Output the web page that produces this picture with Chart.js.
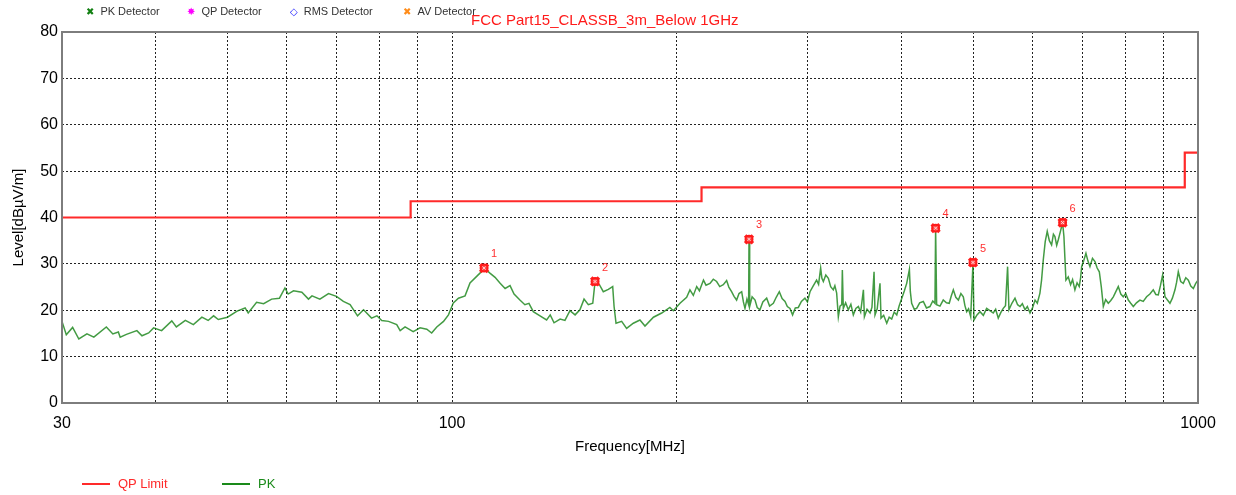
<!DOCTYPE html>
<html>
<head>
<meta charset="utf-8">
<script src="https://cdn.jsdelivr.net/npm/chart.js@4.4.1/dist/chart.umd.min.js"></script>
<style>
html, body { margin: 0; padding: 0; background: #fff; }
#wrap { position: relative; width: 1236px; height: 495px; font-family: "Liberation Sans", Arial, sans-serif; }
#c { position: absolute; left: 0; top: 0; }
.lg { position: absolute; top: 5px; font-size: 11px; color: #333; white-space: nowrap; }
.lg b { font-weight: normal; font-family: "DejaVu Sans", sans-serif; font-size: 10px; margin-right: 6px; }
#title { position: absolute; left: 471px; top: 11px; font-size: 15px; color: #ff1a1a; white-space: nowrap; }
.bl { position: absolute; top: 476px; font-size: 13px; white-space: nowrap; }
.bl i { display: inline-block; width: 28px; height: 2px; vertical-align: middle; margin-right: 8px; position: relative; top: -1px; }
</style>
</head>
<body>
<div id="wrap">
  <canvas id="c" width="1236" height="495"></canvas>
  <div class="lg" style="left:86px"><b style="color:#128012">&#10006;</b>PK Detector</div>
  <div class="lg" style="left:187px"><b style="color:#ff00ff">&#10040;</b>QP Detector</div>
  <div class="lg" style="left:290px"><b style="color:#1a1aff">&#9671;</b>RMS Detector</div>
  <div class="lg" style="left:403px"><b style="color:#ff8c1a">&#10006;</b>AV Detector</div>
  <div id="title">FCC Part15_CLASSB_3m_Below 1GHz</div>
  <div class="bl" style="left:82px;color:#ff2a2a"><i style="background:#ff2a2a"></i>QP Limit</div>
  <div class="bl" style="left:222px;color:#1a8a1a"><i style="background:#1a8a1a"></i>PK</div>
</div>
<script>
// x axis ticks (MHz), only some get a label
const xTicks = [30, 40, 50, 60, 70, 80, 90, 100, 200, 300, 400, 500, 600, 700, 800, 900, 1000]
const xLabels = [30, 100, 1000]
const yTicks = [0, 10, 20, 30, 40, 50, 60, 70, 80]

// QP limit, stepped
const limitFreq = [30, 88, 216, 960, 1000]
const limitLevel = [40, 43.5, 46.5, 54, 54]

// PK trace
const pkFreq = [
  30.0, 30.4, 31.0, 31.6, 32.4, 33.1, 34.4, 35.1, 35.7, 35.9, 36.6, 37.8, 38.4, 39.2, 39.8,
  40.8, 42.1, 42.7, 43.9, 45.0, 46.2, 47.1, 47.9, 48.6, 50.0, 51.5, 52.8, 53.3, 54.7, 55.9,
  57.3, 58.7, 59.7, 60.3, 61.3, 62.9, 64.2, 64.9, 66.5, 68.3, 70.0, 71.5, 73.0, 74.7, 76.1,
  78.0, 79.3, 80.5, 82.2, 84.3, 85.2, 86.5, 88.7, 90.6, 92.5, 93.9, 95.4, 97.4, 98.9, 100.4,
  102.0, 104.1, 105.7, 107.9, 109.0, 110.4, 112.4, 114.2, 116.0, 117.8, 119.6, 121.1, 123.3, 125.2, 126.8,
  128.5, 131.2, 133.9, 135.4, 137.0, 139.6, 141.7, 143.9, 146.2, 148.4, 150.3, 152.3, 154.4, 155.5, 157.6,
  159.5, 162.0, 164.2, 164.9, 165.9, 168.8, 171.4, 175.0, 178.6, 181.4, 186.2, 191.0, 195.9, 198.0, 202.1,
  206.3, 208.4, 210.6, 212.8, 214.6, 217.3, 219.0, 221.7, 224.0, 226.3, 228.5, 231.0, 233.4, 235.0, 237.0,
  238.8, 240.7, 242.5, 244.5, 245.8, 247.0, 248.5, 249.8, 250.1, 250.6, 252.5, 254.8, 256.5, 258.7, 261.0,
  264.1, 266.5, 269.6, 272.0, 274.6, 277.0, 279.5, 281.5, 283.8, 286.1, 288.5, 291.2, 294.0, 297.2, 299.5,
  301.9, 304.8, 308.1, 310.0, 312.0, 313.2, 314.6, 317.0, 319.5, 321.8, 324.4, 326.0, 327.8, 329.5, 331.2,
  333.0, 333.6, 334.6, 337.0, 339.8, 342.5, 345.1, 347.8, 350.5, 353.0, 356.0, 357.1, 360.0, 363.4, 365.5,
  367.9, 369.0, 371.5, 374.7, 375.9, 379.0, 382.6, 385.5, 388.5, 391.5, 394.6, 397.5, 400.8, 404.0, 406.9,
  410.3, 411.5, 413.2, 416.5, 419.6, 423.5, 428.3, 432.5, 437.2, 441.0, 444.0, 444.9, 446.3, 450.9, 455.5,
  460.0, 464.0, 466.8, 469.9, 473.5, 477.3, 481.0, 484.6, 487.0, 489.7, 492.5, 495.8, 499.3, 500.8, 505.5,
  510.2, 515.5, 520.8, 526.0, 531.5, 535.5, 539.8, 544.0, 548.2, 552.0, 555.6, 557.9, 563.0, 568.4, 573.0,
  577.3, 581.5, 586.3, 590.5, 595.4, 600.0, 604.7, 609.0, 613.9, 617.0, 620.3, 624.0, 627.9, 632.0, 636.4,
  640.0, 643.0, 646.5, 649.7, 654.0, 658.4, 661.1, 663.0, 665.2, 670.0, 674.8, 679.0, 683.9, 688.5, 693.1,
  696.0, 698.3, 703.0, 707.6, 712.0, 716.4, 722.0, 727.6, 732.5, 737.4, 742.0, 746.6, 752.0, 758.1, 764.0,
  770.0, 776.0, 781.9, 788.0, 794.0, 800.0, 806.4, 812.5, 819.0, 827.0, 835.8, 844.5, 853.3, 862.0, 871.0,
  878.0, 884.6, 890.5, 896.5, 903.1, 910.0, 917.1, 924.0, 931.4, 936.0, 941.0, 948.0, 955.6, 963.0, 970.6,
  978.0, 985.7, 993.0, 1000
]
const pkLevel = [
  17.6, 14.7, 16.3, 13.8, 14.9, 14.2, 16.4, 14.9, 15.3, 14.2, 14.8, 15.6, 14.5, 15.1, 16.2,
  15.6, 17.7, 16.4, 17.8, 16.9, 18.5, 17.8, 18.8, 18.0, 18.5, 19.8, 20.5, 19.4, 21.7, 21.4,
  22.4, 22.6, 24.8, 23.5, 24.2, 23.9, 22.4, 23.1, 22.4, 23.6, 23.0, 21.9, 21.2, 18.8, 20.1,
  18.3, 18.8, 17.8, 17.6, 16.9, 15.6, 16.4, 15.4, 16.2, 15.9, 15.1, 16.4, 17.6, 19.0, 21.6,
  22.6, 23.1, 25.9, 27.3, 28.0, 29.1, 28.0, 27.1, 25.8, 24.7, 25.3, 23.5, 22.2, 21.2, 21.5,
  19.7, 18.8, 17.9, 19.0, 17.3, 18.1, 17.8, 19.9, 19.0, 20.1, 22.4, 21.2, 21.5, 26.2, 25.5,
  24.0, 24.5, 25.1, 20.8, 17.2, 17.6, 16.1, 17.2, 17.9, 16.6, 18.5, 19.4, 20.6, 19.9, 21.5,
  22.8, 24.4, 23.2, 25.1, 24.2, 26.5, 25.4, 25.8, 26.7, 26.2, 25.1, 25.5, 26.4, 25.0, 24.0,
  23.0, 22.2, 23.6, 24.0, 21.8, 20.4, 22.4, 21.2, 35.3, 20.8, 22.9, 22.2, 20.6, 20.1, 21.8,
  22.6, 20.9, 21.5, 22.8, 24.0, 22.5, 21.9, 20.8, 20.4, 19.0, 20.5, 20.6, 21.9, 22.6, 21.8,
  24.0, 25.2, 26.5, 25.6, 29.1, 26.9, 26.2, 27.6, 26.9, 25.1, 24.4, 25.3, 23.7, 18.6, 20.9,
  21.2, 28.7, 20.4, 21.6, 20.1, 21.3, 19.0, 20.4, 20.8, 19.6, 24.4, 18.6, 20.2, 19.4, 20.6,
  28.3, 19.0, 20.3, 25.8, 18.3, 18.9, 17.2, 18.5, 18.1, 19.6, 19.0, 20.9, 22.6, 24.2, 25.8,
  28.8, 24.0, 21.5, 20.2, 20.4, 21.6, 21.9, 20.5, 20.8, 22.0, 21.5, 37.7, 21.2, 20.9, 22.2,
  21.6, 21.5, 23.0, 24.4, 22.8, 22.2, 23.6, 22.9, 21.0, 19.7, 20.3, 18.6, 30.3, 17.9, 19.0,
  19.7, 18.9, 20.4, 19.9, 19.4, 20.2, 18.3, 19.5, 20.4, 21.0, 29.4, 20.1, 21.5, 22.6, 21.2,
  20.8, 21.4, 20.1, 20.8, 19.4, 20.5, 22.2, 21.5, 23.7, 26.5, 30.9, 34.8, 37.0, 35.0, 34.1,
  36.4, 35.9, 34.0, 35.2, 37.0, 38.9, 35.9, 31.5, 26.5, 27.2, 25.5, 26.6, 24.4, 25.9, 25.1,
  27.0, 29.4, 30.8, 32.3, 30.6, 29.4, 31.2, 30.5, 29.1, 28.3, 25.0, 20.8, 22.3, 21.5, 22.1,
  22.9, 24.0, 25.1, 23.5, 22.9, 23.6, 22.2, 21.5, 20.8, 21.6, 22.2, 21.9, 22.9, 23.5, 24.4,
  23.4, 23.3, 25.3, 27.6, 22.9, 22.2, 21.5, 22.6, 24.4, 26.0, 28.3, 26.2, 25.8, 27.0, 26.5,
  25.2, 24.7, 25.8, 26.5
]

// marked peaks
const peakFreq = [110.4, 155.5, 250.1, 444.9, 499.3, 658.4]
const peakLevel = [29.1, 26.2, 35.3, 37.7, 30.3, 38.9]
const peakNames = ['1', '2', '3', '4', '5', '6']

const toXY = (xs, ys) => xs.map((x, i) => ({ x: x, y: ys[i] }))

const extras = {
  id: 'extras',
  afterDatasetsDraw(chart) {
    const { ctx, chartArea: a, scales } = chart
    ctx.save()
    // frame
    ctx.strokeStyle = '#7d7d7d'
    ctx.lineWidth = 2
    ctx.strokeRect(a.left, a.top, a.right - a.left, a.bottom - a.top)
    // peak numbers
    ctx.fillStyle = '#ff3030'
    ctx.font = '11px "Liberation Sans", Arial, sans-serif'
    ctx.textAlign = 'center'
    ctx.textBaseline = 'middle'
    peakNames.forEach((n, i) => {
      const px = scales.x.getPixelForValue(peakFreq[i])
      const py = scales.y.getPixelForValue(peakLevel[i])
      ctx.fillText(n, px + 10, py - 14)
    })
    ctx.restore()
  }
}

new Chart(document.getElementById('c'), {
  type: 'line',
  data: {
    datasets: [
      {
        label: 'Peaks inner',
        type: 'scatter',
        data: toXY(peakFreq, peakLevel),
        pointStyle: 'crossRot',
        pointRadius: 2.2,
        borderWidth: 1,
        borderColor: 'rgba(255,220,220,0.95)'
      },
      {
        label: 'Peaks ring',
        type: 'scatter',
        data: toXY(peakFreq, peakLevel),
        pointStyle: 'circle',
        pointRadius: 3.5,
        borderWidth: 2,
        borderColor: '#ff1a1a',
        backgroundColor: '#ff4a4a'
      },
      {
        label: 'Peaks',
        type: 'scatter',
        data: toXY(peakFreq, peakLevel),
        pointStyle: 'crossRot',
        pointRadius: 5.5,
        borderWidth: 3.5,
        borderColor: '#ff2020'
      },
      {
        label: 'QP Limit',
        data: toXY(limitFreq, limitLevel),
        stepped: 'before',
        borderColor: '#ff2a2a',
        borderWidth: 2.2,
        pointRadius: 0
      },
      {
        label: 'PK',
        data: toXY(pkFreq, pkLevel),
        borderColor: 'rgba(20,130,20,0.8)',
        borderWidth: 1.5,
        pointRadius: 0,
        tension: 0
      }
    ]
  },
  options: {
    responsive: false,
    animation: false,
    devicePixelRatio: 1,
    layout: { padding: { left: 0, right: 38, top: 32, bottom: 35 } },
    plugins: { legend: { display: false }, tooltip: { enabled: false } },
    scales: {
      x: {
        type: 'logarithmic',
        min: 30,
        max: 1000,
        afterBuildTicks: s => { s.ticks = xTicks.map(v => ({ value: v })) },
        afterFit: s => { s.height = 57 },
        ticks: {
          autoSkip: false,
          maxRotation: 0,
          padding: 11,
          color: '#000',
          font: { size: 16, family: '"Liberation Sans", Arial, sans-serif' },
          callback: v => xLabels.includes(v) ? String(v) : ''
        },
        grid: { color: '#222', lineWidth: 1, drawTicks: false },
        border: { display: false, dash: [2, 2] },
        title: {
          display: true,
          text: 'Frequency[MHz]',
          color: '#000',
          font: { size: 15, family: '"Liberation Sans", Arial, sans-serif' }
        }
      },
      y: {
        min: 0,
        max: 80,
        afterBuildTicks: s => { s.ticks = yTicks.map(v => ({ value: v })) },
        afterFit: s => { s.width = 62 },
        ticks: {
          padding: 4,
          color: '#000',
          font: { size: 16, family: '"Liberation Sans", Arial, sans-serif' }
        },
        grid: { color: '#222', lineWidth: 1, drawTicks: false },
        border: { display: false, dash: [2, 2] },
        title: {
          display: true,
          text: 'Level[dBµV/m]',
          color: '#000',
          padding: { top: 10, bottom: 0 },
          font: { size: 15, family: '"Liberation Sans", Arial, sans-serif' }
        }
      }
    }
  },
  plugins: [extras]
})
</script>
</body>
</html>
